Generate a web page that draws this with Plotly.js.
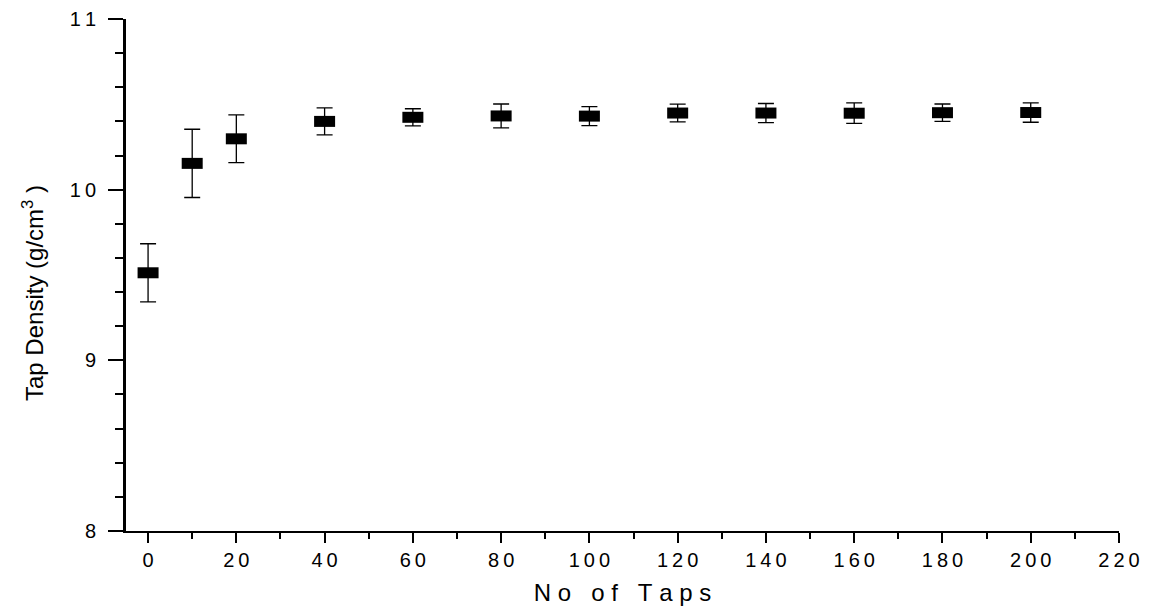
<!DOCTYPE html>
<html>
<head>
<meta charset="utf-8">
<script src="https://cdn.plot.ly/plotly-3.0.1.min.js"></script>
<style>html,body{margin:0;padding:0;background:#fff;}#chart{width:1152px;height:614px;}</style>
</head>
<body>
<div id="chart"></div>
<script>
const taps = [0, 10, 20, 40, 60, 80, 100, 120, 140, 160, 180, 200];
const density = [9.513, 10.154, 10.298, 10.400, 10.424, 10.432, 10.431, 10.449, 10.449, 10.448, 10.451, 10.452];
const densityErr = [0.170, 0.200, 0.140, 0.079, 0.050, 0.070, 0.056, 0.052, 0.056, 0.060, 0.051, 0.057];

const xTickVals = [0, 20, 40, 60, 80, 100, 120, 140, 160, 180, 200, 220];
const xTickText = ["0", "2\u20090", "4\u20090", "6\u20090", "8\u20090", "1\u20090\u20090", "1\u20092\u20090", "1\u20094\u20090", "1\u20096\u20090", "1\u20098\u20090", "2\u20090\u20090", "2\u20092\u20090"];
const yTickVals = [8, 9, 10, 11];
const yTickText = ["8", "9", "1\u20090", "1\u20091"];

const xTitle = "N\u00a0o\u00a0\u00a0\u00a0o\u00a0f\u00a0\u00a0\u00a0T\u00a0a\u00a0p\u00a0s";
const yTitle = "Tap Density (g/cm<sup>3</sup> )";

const font = "Liberation Sans, Arial, sans-serif";

const trace = {
  x: taps,
  y: density,
  type: "scatter",
  mode: "markers",
  marker: {symbol: "line-ew", size: 15, color: "#000", line: {width: 11, color: "#000"}},
  error_y: {type: "data", array: densityErr, visible: true, color: "#000", thickness: 1.3, width: 8},
  showlegend: false,
  hoverinfo: "x+y"
};

const layout = {
  width: 1152,
  height: 614,
  margin: {l: 126, r: 33, t: 19, b: 83},
  paper_bgcolor: "#fff",
  plot_bgcolor: "#fff",
  font: {family: font, size: 20, color: "#000"},
  xaxis: {
    range: [-5, 220],
    tickmode: "array",
    tickvals: xTickVals,
    ticktext: xTickText,
    ticks: "outside",
    ticklen: 10,
    tickwidth: 2,
    tickcolor: "#000",
    showline: true,
    linewidth: 2,
    linecolor: "#000",
    showgrid: false,
    zeroline: false,
    minor: {dtick: 10, tick0: 0, ticks: "outside", ticklen: 6, tickwidth: 2, tickcolor: "#000", showgrid: false},
    tickfont: {family: font, size: 20, color: "#000"},
    title: {text: xTitle, font: {family: font, size: 24, color: "#000"}, standoff: 14}
  },
  yaxis: {
    range: [8, 11],
    tickmode: "array",
    tickvals: yTickVals,
    ticktext: yTickText,
    ticks: "outside",
    ticklen: 15,
    tickwidth: 2,
    tickcolor: "#000",
    ticklabelstandoff: 8,
    showline: true,
    linewidth: 3,
    linecolor: "#000",
    showgrid: false,
    zeroline: false,
    minor: {dtick: 0.2, tick0: 8, ticks: "outside", ticklen: 8, tickwidth: 2, tickcolor: "#000", showgrid: false},
    tickfont: {family: font, size: 20, color: "#000"}
  },
  annotations: [{
    text: yTitle,
    xref: "paper", yref: "paper",
    x: 0, y: 0.5,
    xanchor: "center", yanchor: "middle",
    xshift: -93, yshift: -18,
    textangle: -90,
    showarrow: false,
    font: {family: font, size: 24, color: "#000"}
  }]
};

Plotly.newPlot("chart", [trace], layout, {displayModeBar: false, staticPlot: true});
</script>
</body>
</html>
